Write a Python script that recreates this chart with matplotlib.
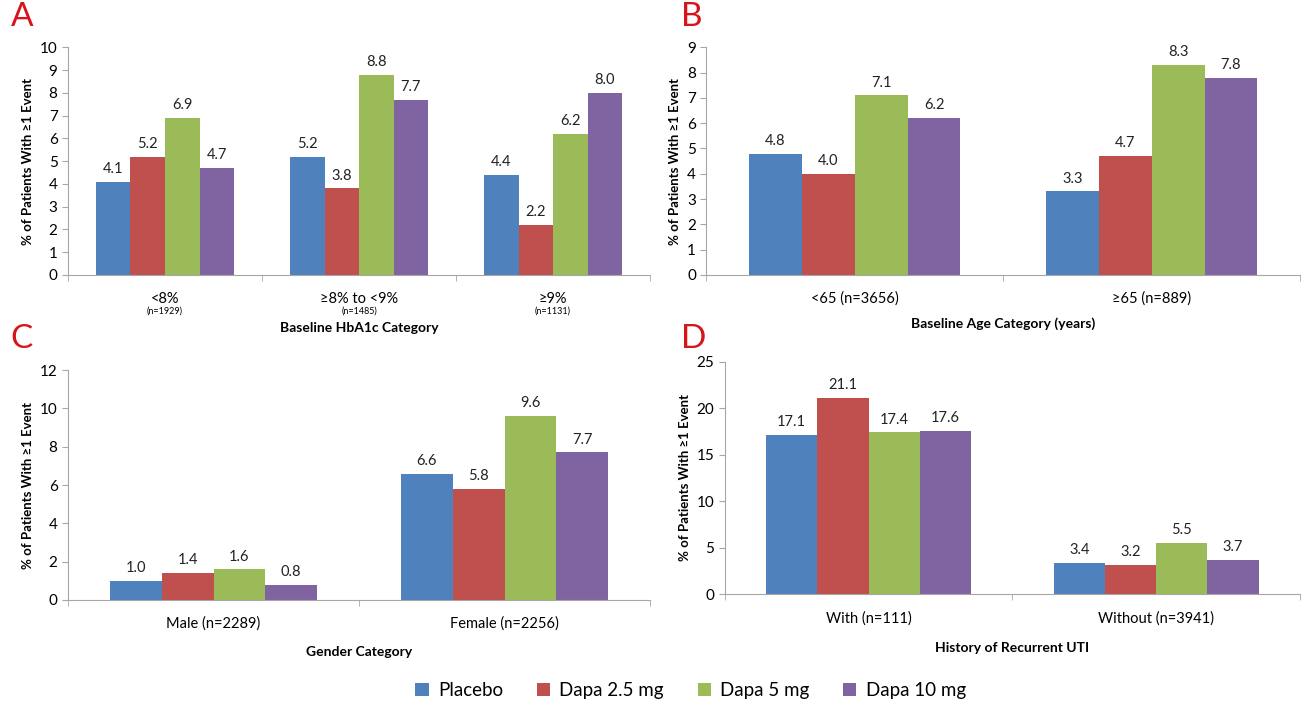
import numpy as np
import matplotlib.pyplot as plt

plt.rcParams['font.family'] = ['Lato', 'DejaVu Sans']

series = ['Placebo', 'Dapa 2.5 mg', 'Dapa 5 mg', 'Dapa 10 mg']
colors = ['#4F81BD', '#C0504D', '#9BBB59', '#8064A2']

# panel A
hba1c_cats = ['<8%', '\u22658% to <9%', '\u22659%']
hba1c_n = ['(n=1929)', '(n=1485)', '(n=1131)']
hba1c_vals = [[4.1, 5.2, 4.4],
              [5.2, 3.8, 2.2],
              [6.9, 8.8, 6.2],
              [4.7, 7.7, 8.0]]

# panel B
age_cats = ['<65 (n=3656)', '\u226565 (n=889)']
age_vals = [[4.8, 3.3],
            [4.0, 4.7],
            [7.1, 8.3],
            [6.2, 7.8]]

# panel C
gender_cats = ['Male (n=2289)', 'Female (n=2256)']
gender_vals = [[1.0, 6.6],
               [1.4, 5.8],
               [1.6, 9.6],
               [0.8, 7.7]]

# panel D
uti_cats = ['With (n=111)', 'Without (n=3941)']
uti_vals = [[17.1, 3.4],
            [21.1, 3.2],
            [17.4, 5.5],
            [17.6, 3.7]]

fig = plt.figure(figsize=(13.08, 7.05), dpi=100)

axA = fig.add_axes([0.052, 0.610, 0.445, 0.323])
axB = fig.add_axes([0.540, 0.610, 0.454, 0.323])
axC = fig.add_axes([0.052, 0.149, 0.445, 0.326])
axD = fig.add_axes([0.554, 0.157, 0.440, 0.330])

grey = '#A6A6A6'


def draw(ax, cats, vals, ymax, ystep, xlabel, letter, letter_xy, xlabel_pad):
    x = np.arange(len(cats))
    w = 0.178
    for i, (v, c) in enumerate(zip(vals, colors)):
        pos = x + (i - 1.5) * w
        ax.bar(pos, v, width=w, color=c, label=series[i])
        for p, val in zip(pos, v):
            ax.text(p, val + ymax * 0.025, f'{val:.1f}', ha='center', va='bottom',
                    fontsize=10.5, color='#222222')
    ax.set_xlim(-0.5, len(cats) - 0.5)
    ax.set_ylim(0, ymax)
    ax.set_yticks(np.arange(0, ymax + 0.01, ystep))
    ax.set_xticks(x)
    ax.set_xticklabels(cats, fontsize=10.5)
    ax.set_xticks(np.arange(-0.5, len(cats), 1), minor=True)
    ax.tick_params(axis='x', which='major', length=0, pad=12)
    ax.tick_params(axis='x', which='minor', length=4, color=grey)
    ax.tick_params(axis='y', length=4, color=grey, labelsize=11)
    for s in ['top', 'right']:
        ax.spines[s].set_visible(False)
    for s in ['left', 'bottom']:
        ax.spines[s].set_color(grey)
    ax.set_ylabel('% of Patients With \u22651 Event', fontsize=9.5, fontweight='bold')
    ax.set_xlabel(xlabel, fontsize=10, fontweight='bold', labelpad=xlabel_pad)
    fig.text(letter_xy[0], letter_xy[1], letter, fontsize=24, color='#D7141A',
             ha='left', va='top')


draw(axA, hba1c_cats, hba1c_vals, 10, 1, 'Baseline HbA1c Category', 'A', (0.008, 0.997), 12)
for xi, n in enumerate(hba1c_n):
    axA.annotate(n, xy=(xi, 0), xycoords=('data', 'axes fraction'),
                 xytext=(0, -23), textcoords='offset points',
                 ha='center', va='top', fontsize=6.5)
draw(axB, age_cats, age_vals, 9, 1, 'Baseline Age Category (years)', 'B', (0.521, 0.997), 8)
draw(axC, gender_cats, gender_vals, 12, 2, 'Gender Category', 'C', (0.008, 0.540), 11)
draw(axD, uti_cats, uti_vals, 25, 5, 'History of Recurrent UTI', 'D', (0.521, 0.540), 12)

handles, labels = axA.get_legend_handles_labels()
fig.legend(handles, labels, loc='center', bbox_to_anchor=(0.528, 0.021), ncol=4,
           frameon=False, fontsize=13.5, handlelength=0.7, handleheight=0.7,
           columnspacing=1.8, handletextpad=0.5)

fig.savefig('out.png', dpi=100)
